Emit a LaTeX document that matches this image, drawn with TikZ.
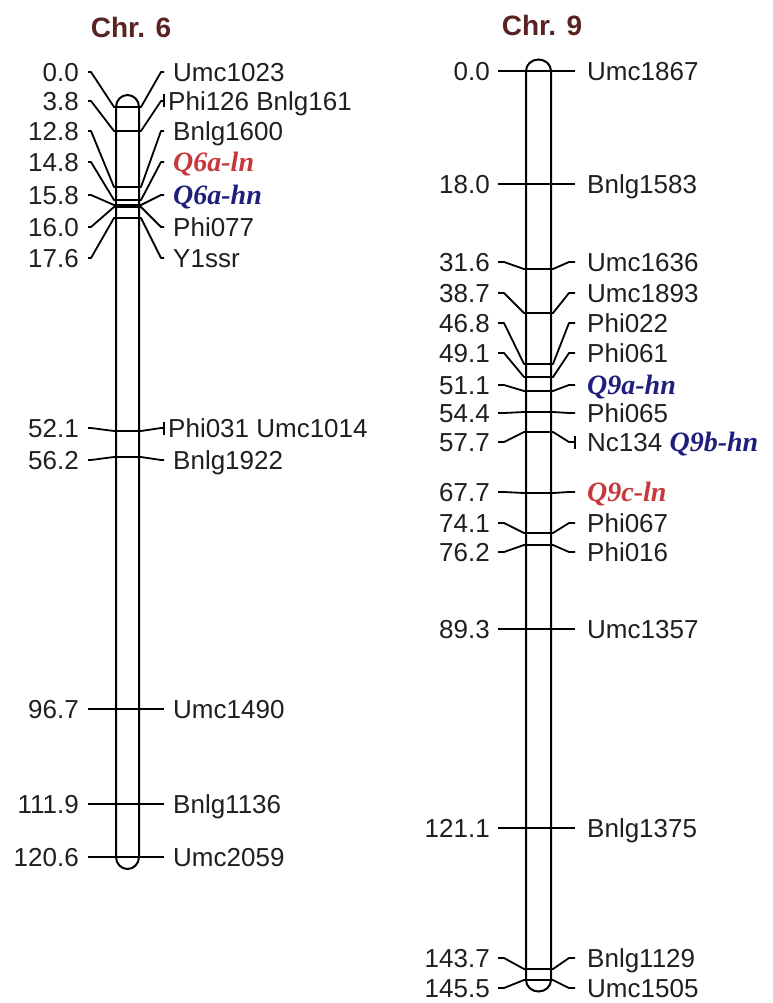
\documentclass[tikz,border=0pt]{standalone}
\usepackage{fontspec}
\setmainfont{Liberation Sans}
\newfontfamily\qfont{Liberation Serif}
\definecolor{titlered}{RGB}{90,35,35}
\definecolor{qred}{RGB}{200,55,60}
\definecolor{qblue}{RGB}{30,30,125}
\tikzset{
  numlab/.style={anchor=base east, inner sep=0pt, font=\fontsize{26}{26}\selectfont, text=black!88},
  namelab/.style={anchor=base west, inner sep=0pt, font=\fontsize{26}{26}\selectfont, text=black!88},
  conn/.style={line width=1.8pt, line join=round},
  chrbar/.style={line width=2pt},
  ttl/.style={font=\bfseries\fontsize{28}{28}\selectfont, text=titlered, inner sep=0pt},
  qln/.style={font=\qfont\bfseries\itshape\fontsize{28}{28}\selectfont, text=qred},
  qhn/.style={font=\qfont\bfseries\itshape\fontsize{28}{28}\selectfont, text=qblue},
}
% geometry of the current chromosome
\def\XN{79}\def\XS{88}\def\BL{116}\def\BR{139}\def\XE{164}\def\XT{173}\def\XTT{168}\def\SA{3}
% #1 id, #2 marker y, #3 label y, #4 number, #5 name, #6 name style
\newcommand{\mkr}[6]{%
  \node[numlab] (n#1) at (\XN,#3+9.6) {#4};
  \node[namelab,#6] (m#1) at (\XT,#3+9.6) {#5};
  \coordinate (ls#1) at (\XS,#3);
  \coordinate (bl#1) at (\BL,#2);
  \coordinate (br#1) at (\BR,#2);
  \coordinate (le#1) at (\XE,#3);
  \draw[conn] (ls#1) -- ++(\SA,0) -- ([xshift=-2pt]bl#1) -- (bl#1) -- (br#1)
     -- ([xshift=2pt]br#1) -- ([xshift=-\SA pt]le#1) -- (le#1);
}
% same, with a vertical tick at the name end
\newcommand{\mkrt}[6]{%
  \node[numlab] (n#1) at (\XN,#3+9.6) {#4};
  \node[namelab,#6] (m#1) at (\XTT,#3+9.6) {#5};
  \coordinate (ls#1) at (\XS,#3);
  \coordinate (bl#1) at (\BL,#2);
  \coordinate (br#1) at (\BR,#2);
  \coordinate (le#1) at (\XE,#3);
  \draw[conn] (ls#1) -- ++(\SA,0) -- ([xshift=-2pt]bl#1) -- (bl#1) -- (br#1)
     -- ([xshift=2pt]br#1) -- ([xshift=-\SA pt]le#1) -- (le#1);
  \draw[conn] ([yshift=6.5pt]le#1) -- ([yshift=-6.5pt]le#1);
}
\begin{document}
\begin{tikzpicture}[x=1pt,y=-1pt]
\fill[white] (0,0) rectangle (772,1003);
\useasboundingbox (0,0) rectangle (772,1003);

% ---------- Chr. 6 ----------
\node[ttl] (t6) at (131,27) {Chr. 6};
\draw[chrbar] (116,107) -- (116,857)
  arc[start angle=180,end angle=360,x radius=11.5pt,y radius=12pt]
  -- (139,107)
  arc[start angle=0,end angle=180,x radius=11.5pt,y radius=12pt] -- cycle;
\mkr{a1}{107}{72}{0.0}{Umc1023}{}
\mkrt{a2}{131}{101}{3.8}{Phi126 Bnlg161}{}
\mkr{a3}{187}{131}{12.8}{Bnlg1600}{}
\mkr{a4}{200}{162}{14.8}{Q6a-ln}{qln}
\mkr{a5}{205}{195}{15.8}{Q6a-hn}{qhn}
\mkr{a6}{207}{227}{16.0}{Phi077}{}
\mkr{a7}{218}{258}{17.6}{Y1ssr}{}
\mkrt{a8}{431}{428}{52.1}{Phi031 Umc1014}{}
\mkr{a9}{457}{460}{56.2}{Bnlg1922}{}
\mkr{a10}{709}{709}{96.7}{Umc1490}{}
\mkr{a11}{804}{804}{111.9}{Bnlg1136}{}
\mkr{a12}{857}{857}{120.6}{Umc2059}{}

% ---------- Chr. 9 ----------
\def\XN{490}\def\XS{498}\def\BL{526}\def\BR{551}\def\XE{575}\def\XT{587}\def\XTT{587}\def\SA{6}
\node[ttl] (t9) at (542,25) {Chr. 9};
\draw[chrbar] (526,71) -- (526,980)
  arc[start angle=180,end angle=360,x radius=12.5pt,y radius=11.5pt]
  -- (551,71)
  arc[start angle=0,end angle=180,x radius=12.5pt,y radius=11.5pt] -- cycle;
\mkr{b1}{71}{71}{0.0}{Umc1867}{}
\mkr{b2}{184}{184}{18.0}{Bnlg1583}{}
\mkr{b3}{269}{262}{31.6}{Umc1636}{}
\mkr{b4}{313}{293}{38.7}{Umc1893}{}
\mkr{b5}{364}{323}{46.8}{Phi022}{}
\mkr{b6}{377}{353}{49.1}{Phi061}{}
\mkr{b7}{391}{385}{51.1}{Q9a-hn}{qhn}
\mkr{b8}{412}{413}{54.4}{Phi065}{}
\mkrt{b9}{432}{442}{57.7}{Nc134 {\qfont\bfseries\itshape\fontsize{28}{28}\selectfont\color{qblue}Q9b-hn}}{}
\mkr{b10}{493}{492}{67.7}{Q9c-ln}{qln}
\mkr{b11}{533}{523}{74.1}{Phi067}{}
\mkr{b12}{545}{552}{76.2}{Phi016}{}
\mkr{b13}{629}{629}{89.3}{Umc1357}{}
\mkr{b14}{828}{828}{121.1}{Bnlg1375}{}
\mkr{b15}{969}{958}{143.7}{Bnlg1129}{}
\mkr{b16}{980}{988}{145.5}{Umc1505}{}
\end{tikzpicture}
\end{document}
